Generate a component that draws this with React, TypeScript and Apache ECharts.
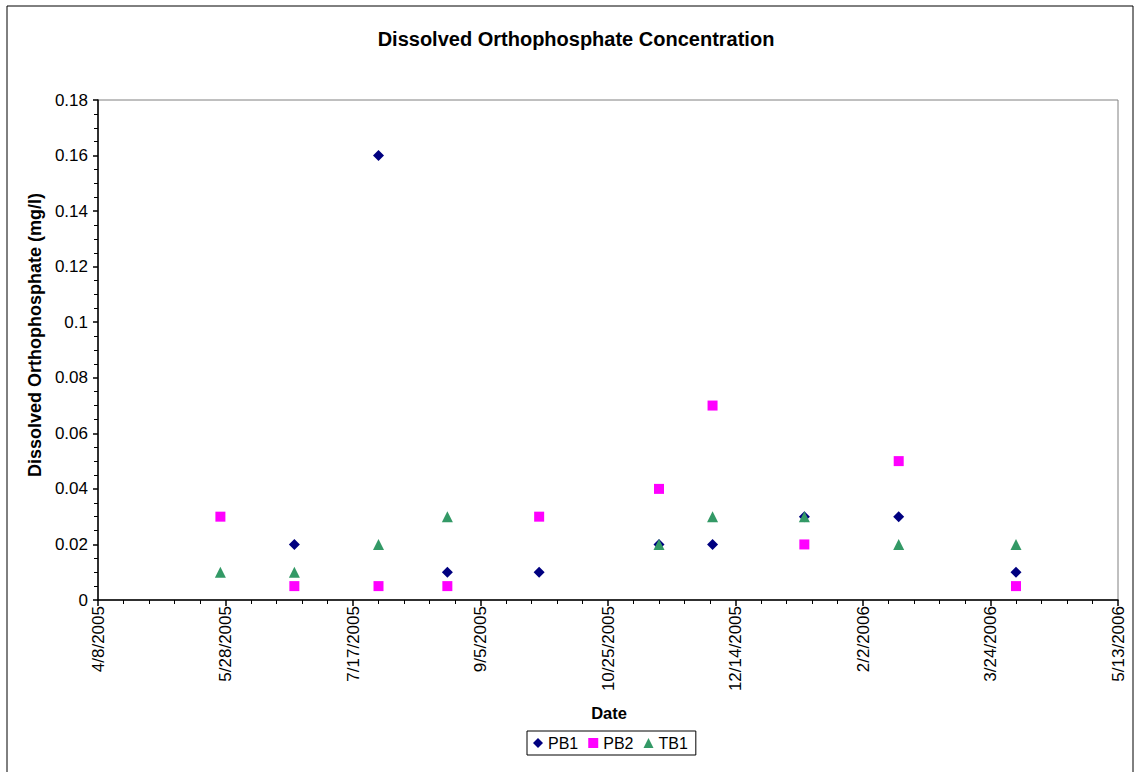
import React, { useEffect, useRef } from "react";
import * as echarts from "echarts";

const sampleDates = ["5/26/2005", "6/24/2005", "7/27/2005", "8/23/2005", "9/28/2005", "11/14/2005", "12/5/2005", "1/10/2006", "2/16/2006", "4/3/2006"];
const pb1Values = [null, 0.02, 0.16, 0.01, 0.01, 0.02, 0.02, 0.03, 0.03, 0.01];
const pb2Values = [0.03, 0.005, 0.005, 0.005, 0.03, 0.04, 0.07, 0.02, 0.05, 0.005];
const tb1Values = [0.01, 0.01, 0.02, 0.03, null, 0.02, 0.03, 0.03, 0.02, 0.02];
const axisStartDate = "4/8/2005";
const axisEndDate = "5/13/2006";
const xTickDays = 50;

const FONT = "'Liberation Sans', Arial, sans-serif";
const DAY = 86400000;

function parseDate(s: string): number {
  const [m, d, y] = s.split("/").map(Number);
  return Date.UTC(y, m - 1, d);
}
const origin = parseDate(axisStartDate);
const toDays = (s: string) => Math.round((parseDate(s) - origin) / DAY);
const fmtDays = (v: number) => {
  const dt = new Date(origin + Math.round(v) * DAY);
  return `${dt.getUTCMonth() + 1}/${dt.getUTCDate()}/${dt.getUTCFullYear()}`;
};

function buildSeries(vals: (number | null)[]) {
  const out: [number, number][] = [];
  vals.forEach((v, i) => {
    if (v !== null) out.push([toDays(sampleDates[i]), v]);
  });
  return out;
}

export default function App() {
  const ref = useRef<HTMLDivElement>(null);
  useEffect(() => {
    if (!ref.current) return;
    const chart = echarts.init(ref.current, null, { renderer: "svg" });
    chart.setOption({
      animation: false,
      backgroundColor: "#ffffff",
      textStyle: { fontFamily: FONT },
      grid: {
        left: 98,
        top: 100,
        right: 19,
        bottom: 172,
        show: true,
        borderColor: "#808080",
        borderWidth: 1,
        backgroundColor: "transparent",
      },
      graphic: [
        {
          type: "rect",
          shape: { x: 7, y: 6, width: 1126, height: 800 },
          style: { fill: "none", stroke: "#000000", lineWidth: 1 },
          silent: true,
        },
        {
          type: "text",
          x: 576,
          y: 39,
          style: {
            text: "Dissolved Orthophosphate Concentration",
            font: `bold 20px ${FONT}`,
            fill: "#000",
            align: "center",
            verticalAlign: "middle",
          },
        },
        {
          type: "text",
          x: 35,
          y: 335,
          rotation: Math.PI / 2,
          style: {
            text: "Dissolved Orthophosphate (mg/l)",
            font: `bold 18px ${FONT}`,
            fill: "#000",
            align: "center",
            verticalAlign: "middle",
          },
        },
        {
          type: "text",
          x: 609,
          y: 713,
          style: {
            text: "Date",
            font: `bold 16.5px ${FONT}`,
            fill: "#000",
            align: "center",
            verticalAlign: "middle",
          },
        },
      ],
      legend: {
        left: 527,
        top: 731,
        orient: "horizontal",
        borderColor: "#000",
        borderWidth: 1,
        padding: [4, 8, 4, 6],
        itemWidth: 10,
        itemHeight: 10,
        itemGap: 10,
        textStyle: { fontFamily: FONT, fontSize: 16, color: "#000" },
        data: [
          { name: "PB1", icon: "diamond" },
          { name: "PB2", icon: "rect" },
          { name: "TB1", icon: "triangle" },
        ],
      },
      xAxis: {
        type: "value",
        min: 0,
        max: toDays(axisEndDate),
        interval: xTickDays,
        splitLine: { show: false },
        axisLine: { show: true, onZero: false, lineStyle: { color: "#000", width: 1.5 } },
        axisTick: { show: true, length: 6, lineStyle: { color: "#000", width: 1.5 } },
        minorTick: { show: true, splitNumber: 5, length: 4, lineStyle: { color: "#000", width: 1 } },
        axisLabel: {
          rotate: 90,
          margin: 6,
          fontSize: 17,
          fontFamily: FONT,
          color: "#000",
          formatter: (v: number) => fmtDays(v),
          showMinLabel: true,
          showMaxLabel: true,
        },
      },
      yAxis: {
        type: "value",
        min: 0,
        max: 0.18,
        interval: 0.02,
        splitLine: { show: false },
        axisLine: { show: true, onZero: false, lineStyle: { color: "#000", width: 1.5 } },
        axisTick: { show: true, length: 5, lineStyle: { color: "#000", width: 1.5 } },
        minorTick: { show: true, splitNumber: 4, length: 4, lineStyle: { color: "#000", width: 1 } },
        axisLabel: {
          margin: 10,
          fontSize: 17,
          fontFamily: FONT,
          color: "#000",
          formatter: (v: number) => String(Math.round(v * 100) / 100),
        },
      },
      series: [
        {
          name: "PB1",
          type: "scatter",
          symbol: "diamond",
          symbolSize: 11,
          itemStyle: { color: "#000080", opacity: 1 },
          data: buildSeries(pb1Values),
        },
        {
          name: "PB2",
          type: "scatter",
          symbol: "rect",
          symbolSize: 10,
          itemStyle: { color: "#FF00FF", opacity: 1 },
          data: buildSeries(pb2Values),
        },
        {
          name: "TB1",
          type: "scatter",
          symbol: "triangle",
          symbolSize: 11,
          itemStyle: { color: "#339966", opacity: 1 },
          data: buildSeries(tb1Values),
        },
      ],
    });
    return () => chart.dispose();
  }, []);
  return (
    <div
      ref={ref}
      style={{ position: "fixed", left: 0, top: 0, width: 1137, height: 772 }}
    />
  );
}
